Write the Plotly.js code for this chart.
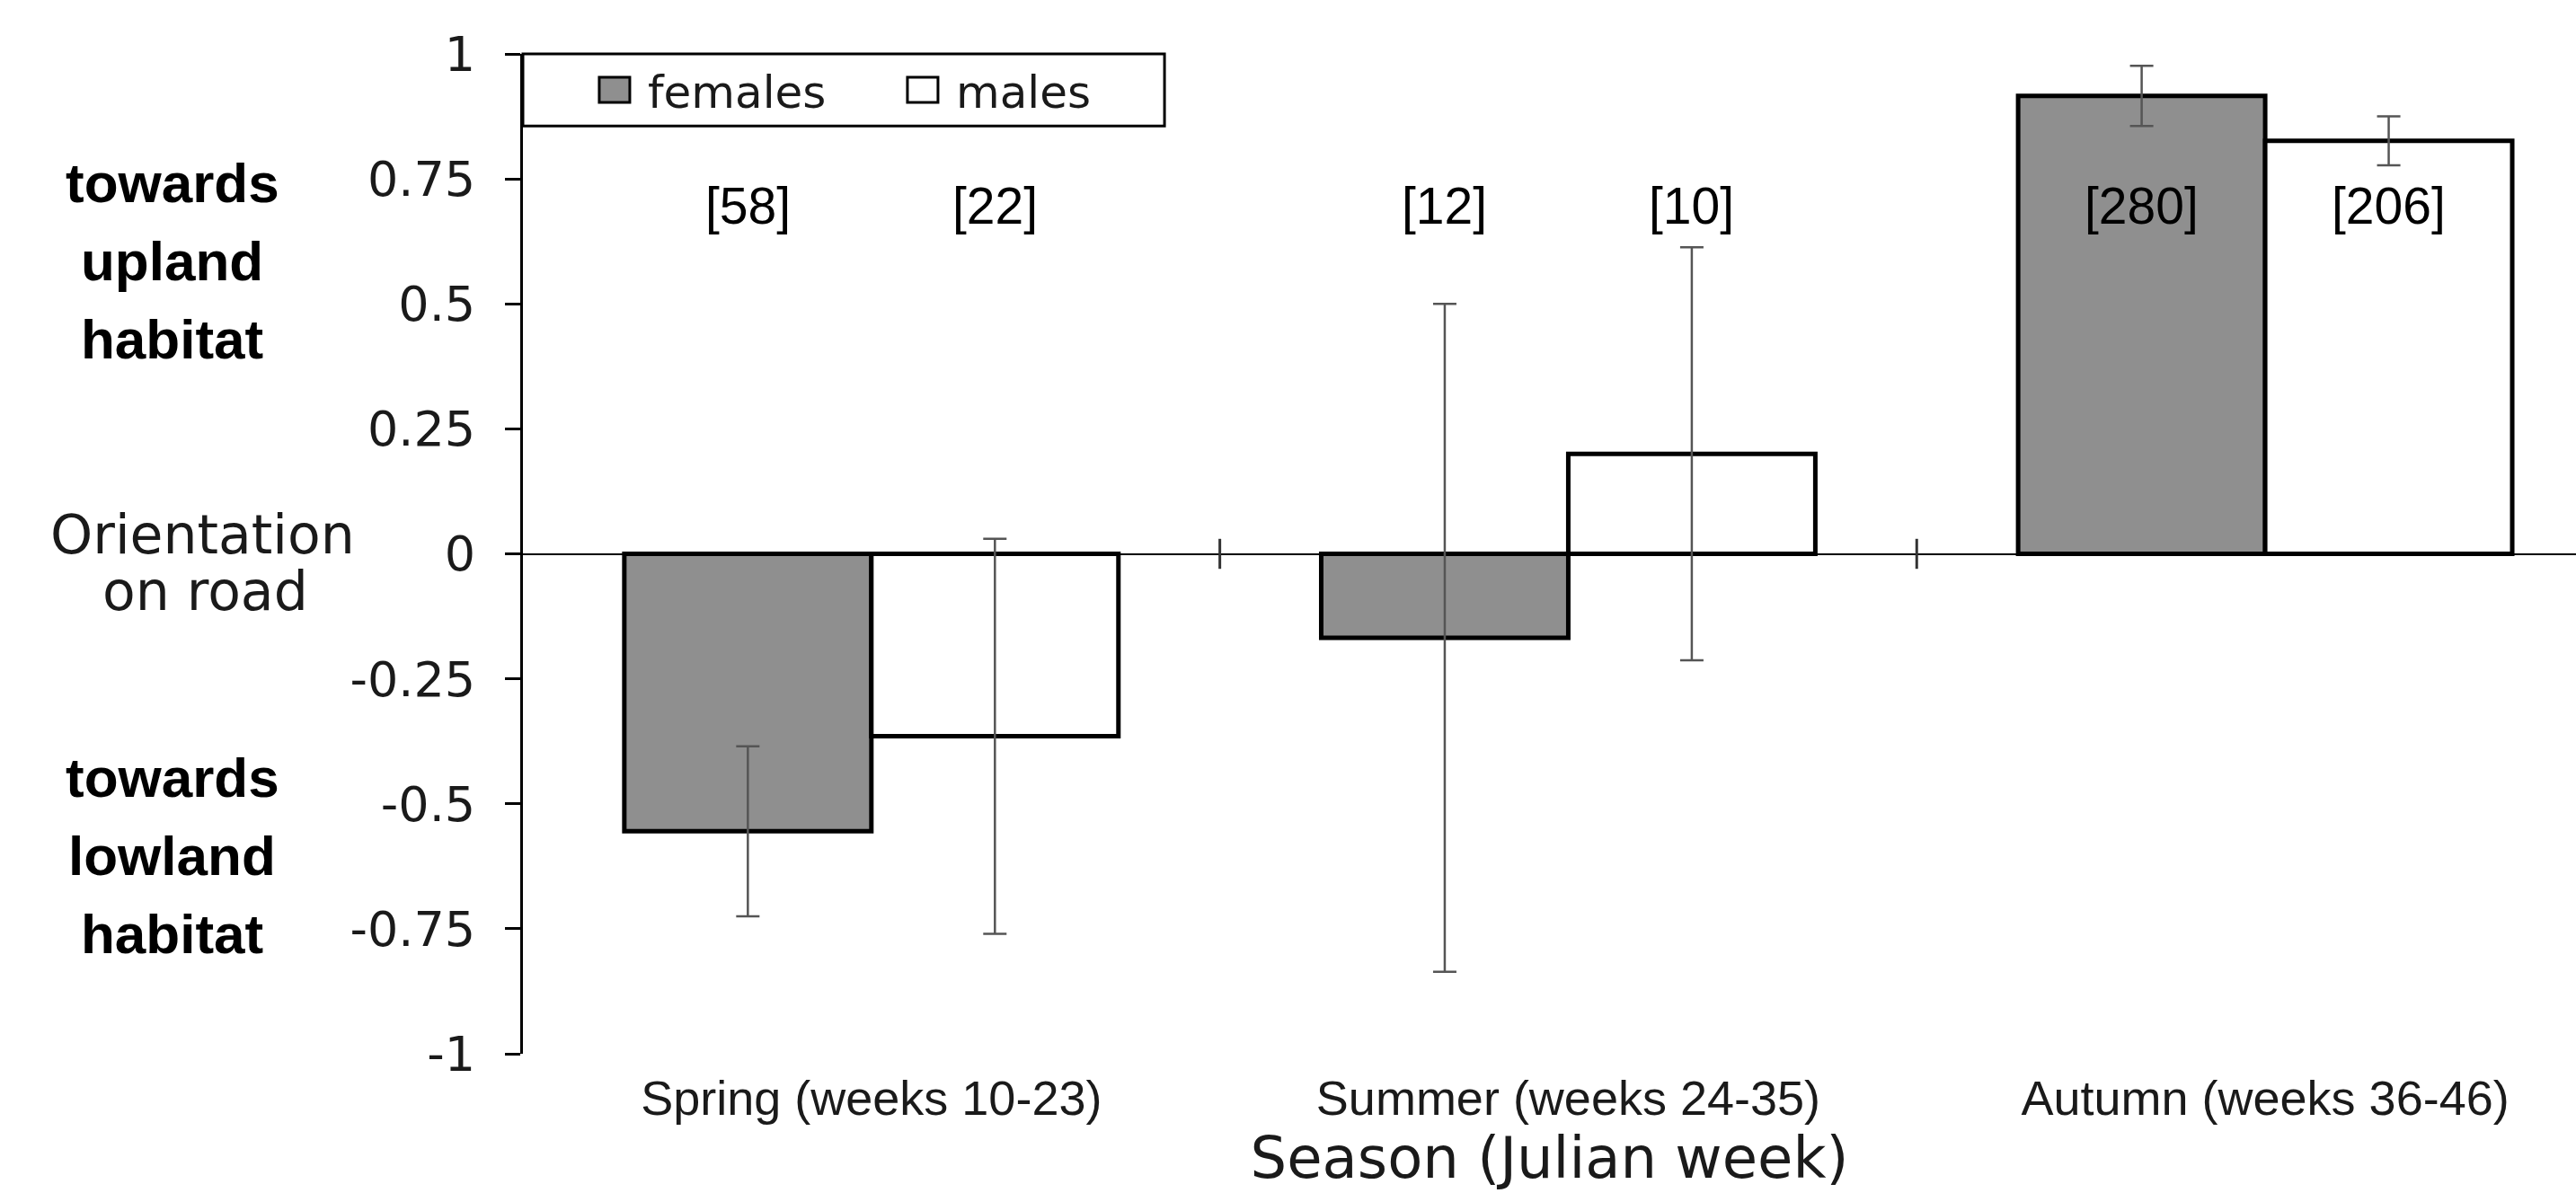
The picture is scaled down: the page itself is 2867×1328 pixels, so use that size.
<!DOCTYPE html>
<html>
<head>
<meta charset="utf-8">
<script src="https://cdn.plot.ly/plotly-3.0.1.min.js"></script>
<style>html,body{margin:0;padding:0;background:#fff;}#chart{width:2867px;height:1328px;}</style>
</head>
<body>
<div id="chart"></div>
<script>
// ---- data ----
const seasons = ['Spring (weeks 10-23)', 'Summer (weeks 24-35)', 'Autumn (weeks 36-46)'];
const femaleMean = [-0.555, -0.168, 0.916];
const femaleErr = [0.17, 0.668, 0.06];
const maleMean = [-0.365, 0.2, 0.826];
const maleErr = [0.395, 0.413, 0.049];
const femaleN = ['[58]', '[12]', '[280]'];
const maleN = ['[22]', '[10]', '[206]'];
const yTickVals = [1, 0.75, 0.5, 0.25, 0, -0.25, -0.5, -0.75, -1];
const yTickText = ['1', '0.75', '0.5', '0.25', '0', '-0.25', '-0.5', '-0.75', '-1'];
const uplandLines = ['towards', 'upland', 'habitat'];
const lowlandLines = ['towards', 'lowland', 'habitat'];
const roadLines = ['Orientation', 'on road'];
const nLabelY = 0.697;

const BARGAP = 0.291;
const half = (1 - BARGAP) / 4;

const sansWide = 'DejaVu Sans, Verdana, sans-serif';
const sansArial = 'Liberation Sans, Arial, sans-serif';

const errStyle = {type: 'data', visible: true, color: '#555555', thickness: 2.5, width: 13};

const traces = [
  {
    type: 'bar', name: 'females', x: seasons, y: femaleMean,
    error_y: Object.assign({array: femaleErr}, errStyle),
    marker: {color: '#8f8f8f', line: {color: '#000000', width: 5}}
  },
  {
    type: 'bar', name: 'males', x: seasons, y: maleMean,
    error_y: Object.assign({array: maleErr}, errStyle),
    marker: {color: '#ffffff', line: {color: '#000000', width: 5}}
  }
];

const annotations = [];
seasons.forEach((s, i) => {
  annotations.push({x: i - half, y: nLabelY, xref: 'x', yref: 'y', text: femaleN[i], showarrow: false,
    font: {family: sansArial, size: 57, color: '#000'}, xanchor: 'center', yanchor: 'middle'});
  annotations.push({x: i + half, y: nLabelY, xref: 'x', yref: 'y', text: maleN[i], showarrow: false,
    font: {family: sansArial, size: 57, color: '#000'}, xanchor: 'center', yanchor: 'middle'});
});
const uplandY = [0.8715, 0.7925, 0.7143];
const lowlandY = [0.2767, 0.1977, 0.1195];
uplandLines.forEach((t, k) => annotations.push({xref: 'paper', yref: 'paper', x: -0.1707, y: uplandY[k], text: t,
  showarrow: false, xanchor: 'center', yanchor: 'middle',
  font: {family: sansArial, size: 62, color: '#000', weight: 'bold'}}));
lowlandLines.forEach((t, k) => annotations.push({xref: 'paper', yref: 'paper', x: -0.1707, y: lowlandY[k], text: t,
  showarrow: false, xanchor: 'center', yanchor: 'middle',
  font: {family: sansArial, size: 62, color: '#000', weight: 'bold'}}));
const roadY = [0.519, 0.4625];
const roadX = [-0.1560, -0.1548];
roadLines.forEach((t, k) => annotations.push({xref: 'paper', yref: 'paper', x: roadX[k], y: roadY[k], text: t,
  showarrow: false, xanchor: 'center', yanchor: 'middle',
  font: {family: sansWide, size: 60, color: '#1a1a1a'}}));

const shapes = [
  // legend frame
  {type: 'rect', xref: 'paper', yref: 'paper', x0: 0, x1: 0.3125, y0: 0.928, y1: 1,
   line: {color: '#000', width: 3}, fillcolor: '#ffffff', layer: 'above'},
  // category separator ticks on the zero line
  {type: 'line', xref: 'x', yref: 'y', x0: 0.5, x1: 0.5, y0: -0.03, y1: 0.03, line: {color: '#333', width: 3}},
  {type: 'line', xref: 'x', yref: 'y', x0: 1.5, x1: 1.5, y0: -0.03, y1: 0.03, line: {color: '#333', width: 3}}
];

const layout = {
  width: 2867, height: 1328,
  margin: {l: 582, r: 0, t: 60, b: 155, pad: 0},
  paper_bgcolor: '#ffffff', plot_bgcolor: '#ffffff',
  barmode: 'group', bargap: BARGAP, bargroupgap: 0,
  showlegend: true,
  legend: {orientation: 'h', x: 0.0433, xanchor: 'left', y: 0.964, yanchor: 'middle',
    bgcolor: 'rgba(0,0,0,0)', borderwidth: 0, entrywidth: 298,
    font: {family: sansWide, size: 50, color: '#1a1a1a'}},
  xaxis: {
    type: 'category', range: [-0.5, 2.446], showline: false, showgrid: false, zeroline: false,
    ticks: '', tickfont: {family: sansArial, size: 54, color: '#1a1a1a'},
    ticklabelstandoff: 13,
    title: {text: 'Season (Julian week)', font: {family: sansWide, size: 64, color: '#1a1a1a'}, standoff: 11},
    fixedrange: true
  },
  yaxis: {
    range: [-1, 1], showgrid: false, zeroline: true, zerolinecolor: '#000', zerolinewidth: 2,
    showline: true, linecolor: '#000', linewidth: 3,
    ticks: 'outside', ticklen: 17, tickwidth: 3, tickcolor: '#000',
    tickvals: yTickVals, ticktext: yTickText,
    tickfont: {family: sansWide, size: 54, color: '#1a1a1a'},
    ticklabelstandoff: 22,
    fixedrange: true
  },
  annotations: annotations,
  shapes: shapes
};

Plotly.newPlot('chart', traces, layout, {displayModeBar: false, staticPlot: true}).then(gd => {
  // let the enlarged swatches extend past the legend's clip box
  gd.querySelectorAll('.legend .scrollbox, .legend [clip-path]').forEach(el => el.removeAttribute('clip-path'));
  // enlarge the legend swatches to the reference's boxed squares
  gd.querySelectorAll('.legend .legendpoints path').forEach(p => {
    p.setAttribute('d', 'M0,14H-34V-14H0Z');
    p.style.strokeWidth = '3px';
  });
});
</script>
</body>
</html>
